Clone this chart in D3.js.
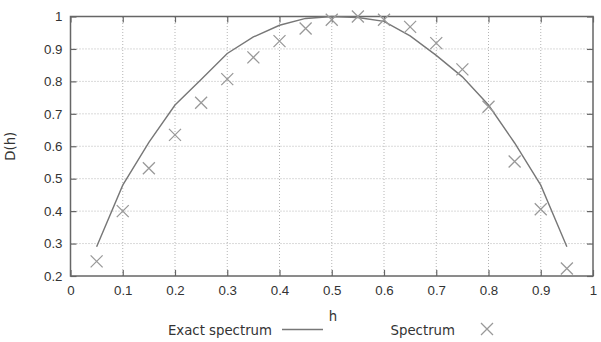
<!DOCTYPE html>
<html>
<head>
<meta charset="utf-8">
<script src="https://cdn.jsdelivr.net/npm/d3@7"></script>
<style>
  body { margin: 0; background: #fff; }
  svg { font-family: "DejaVu Sans", sans-serif; }
  .grid line { stroke: #b5b5b5; stroke-dasharray: 1,2; stroke-width: 1; }
</style>
</head>
<body>
<script>
// exact spectrum, sampled
const exactH = [0.05, 0.1, 0.15, 0.2, 0.25, 0.3, 0.35, 0.4, 0.45, 0.5, 0.55, 0.6, 0.65, 0.7, 0.75, 0.8, 0.85, 0.9, 0.95];
const exactD = [0.29, 0.48, 0.612, 0.727, 0.806, 0.886, 0.937, 0.973, 0.994, 1.0, 0.997, 0.985, 0.94, 0.88, 0.814, 0.727, 0.61, 0.48, 0.29];
// estimated spectrum
const specH = [0.05, 0.1, 0.15, 0.2, 0.25, 0.3, 0.35, 0.4, 0.45, 0.5, 0.55, 0.6, 0.65, 0.7, 0.75, 0.8, 0.85, 0.9, 0.95];
const specD = [0.245, 0.40, 0.532, 0.635, 0.734, 0.807, 0.874, 0.924, 0.963, 0.99, 1.0, 0.99, 0.968, 0.918, 0.837, 0.722, 0.553, 0.406, 0.223];
const xTicks = [0, 0.1, 0.2, 0.3, 0.4, 0.5, 0.6, 0.7, 0.8, 0.9, 1];
const yTicks = [0.2, 0.3, 0.4, 0.5, 0.6, 0.7, 0.8, 0.9, 1];

const width = 601, height = 342;
const margin = {left: 70.5, right: 8, top: 16.5, bottom: 66};
const fs = "13.3px";

const svg = d3.select("body").append("svg")
    .attr("width", width)
    .attr("height", height);

const x = d3.scaleLinear().domain([0, 1]).range([margin.left, width - margin.right]);
const y = d3.scaleLinear().domain([0.2, 1]).range([height - margin.bottom, margin.top]);

// grid
const grid = svg.append("g").attr("class", "grid");
grid.selectAll(".gx")
  .data(xTicks.slice(1, -1))
  .enter().append("line")
    .attr("x1", d => x(d)).attr("x2", d => x(d))
    .attr("y1", y(0.2)).attr("y2", y(1));
grid.selectAll(".gy")
  .data(yTicks.slice(1, -1))
  .enter().append("line")
    .attr("x1", x(0)).attr("x2", x(1))
    .attr("y1", d => y(d)).attr("y2", d => y(d));

// axes with inward ticks, mirrored
const axisColor = "#666";
function styleAxis(g) {
  g.select(".domain").remove();
  g.selectAll(".tick line").attr("stroke", axisColor).attr("stroke-width", 1.2);
  g.selectAll(".tick text").attr("fill", "#333").style("font-size", fs);
}
svg.append("g")
  .attr("transform", `translate(0,${y(0.2)})`)
  .call(d3.axisBottom(x).tickValues(xTicks).tickFormat(d3.format("")).tickSizeInner(-6).tickPadding(10))
  .call(styleAxis);
svg.append("g")
  .attr("transform", `translate(0,${y(1)})`)
  .call(d3.axisTop(x).tickValues(xTicks).tickSizeInner(-6).tickFormat(""))
  .call(styleAxis);
svg.append("g")
  .attr("transform", `translate(${x(0)},0)`)
  .call(d3.axisLeft(y).tickValues(yTicks).tickFormat(d3.format("")).tickSizeInner(-6).tickPadding(8))
  .call(styleAxis);
svg.append("g")
  .attr("transform", `translate(${x(1)},0)`)
  .call(d3.axisRight(y).tickValues(yTicks).tickSizeInner(-6).tickFormat(""))
  .call(styleAxis);

// border
svg.append("rect")
  .attr("x", x(0)).attr("y", y(1))
  .attr("width", x(1) - x(0)).attr("height", y(0.2) - y(1))
  .attr("fill", "none").attr("stroke", axisColor).attr("stroke-width", 1.5);

// exact spectrum line
const line = d3.line().x((d, i) => x(exactH[i])).y(d => y(d));
svg.append("path")
  .datum(exactD)
  .attr("d", line)
  .attr("fill", "none")
  .attr("stroke", "#777")
  .attr("stroke-width", 1.4);

// spectrum crosses
const cs = 6;
const crossPath = (cx, cy) => `M${cx - cs},${cy - cs}L${cx + cs},${cy + cs}M${cx - cs},${cy + cs}L${cx + cs},${cy - cs}`;
svg.append("g")
  .selectAll("path")
  .data(specD)
  .enter().append("path")
    .attr("d", (d, i) => crossPath(x(specH[i]), y(d)))
    .attr("stroke", "#999")
    .attr("stroke-width", 1.3)
    .attr("fill", "none");

// axis labels
svg.append("text")
  .attr("x", 333).attr("y", 321)
  .attr("text-anchor", "middle")
  .attr("fill", "#333")
  .style("font-size", fs)
  .text("h");
svg.append("text")
  .attr("transform", `translate(15,${(y(0.2) + y(1)) / 2}) rotate(-90)`)
  .attr("text-anchor", "middle")
  .attr("fill", "#333")
  .style("font-size", fs)
  .text("D(h)");

// legend
svg.append("text")
  .attr("x", 272).attr("y", 334.5)
  .attr("text-anchor", "end")
  .attr("fill", "#333")
  .style("font-size", fs)
  .text("Exact spectrum");
svg.append("line")
  .attr("x1", 282).attr("x2", 323)
  .attr("y1", 329.5).attr("y2", 329.5)
  .attr("stroke", "#777").attr("stroke-width", 1.4);
svg.append("text")
  .attr("x", 455).attr("y", 334.5)
  .attr("text-anchor", "end")
  .attr("fill", "#333")
  .style("font-size", fs)
  .text("Spectrum");
svg.append("path")
  .attr("d", crossPath(487, 329))
  .attr("stroke", "#999").attr("stroke-width", 1.3).attr("fill", "none");
</script>
</body>
</html>
